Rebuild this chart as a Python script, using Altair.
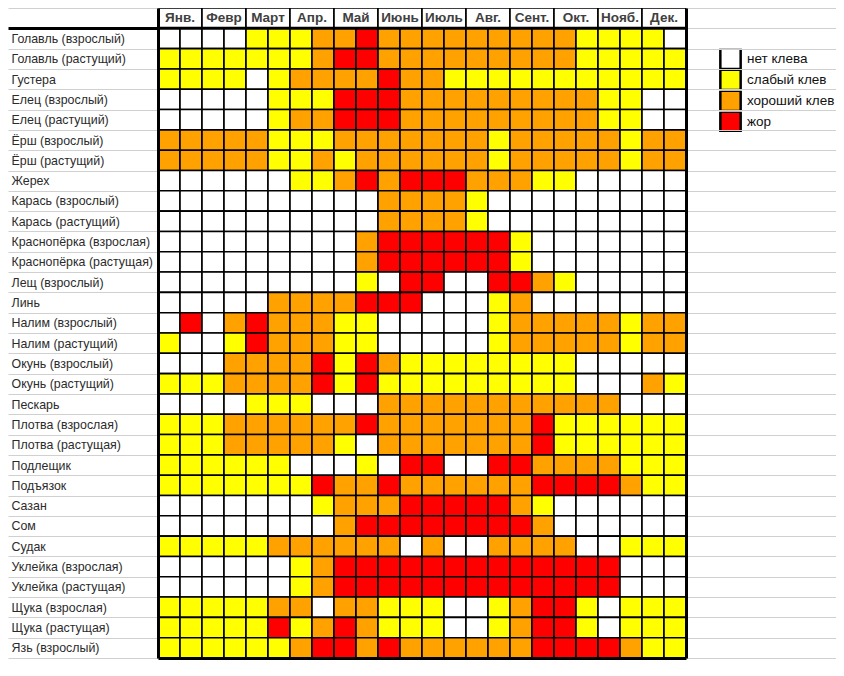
import altair as alt
import pandas as pd

months = ["Янв.", "Февр", "Март", "Апр.", "Май", "Июнь",
          "Июль", "Авг.", "Сент.", "Окт.", "Нояб.", "Дек."]
halves = ["1", "2"]
levels = ["нет клева", "слабый клев", "хороший клев", "жор"]
level_colors = ["#ffffff", "#ffff00", "#ffa200", "#ff0000"]

fish = [
    "Голавль (взрослый)", "Голавль (растущий)", "Густера", "Елец (взрослый)",
    "Елец (растущий)", "Ёрш (взрослый)", "Ёрш (растущий)", "Жерех",
    "Карась (взрослый)", "Карась (растущий)", "Краснопёрка (взрослая)",
    "Краснопёрка (растущая)", "Лещ (взрослый)", "Линь", "Налим (взрослый)",
    "Налим (растущий)", "Окунь (взрослый)", "Окунь (растущий)", "Пескарь",
    "Плотва (взрослая)", "Плотва (растущая)", "Подлещик", "Подъязок", "Сазан",
    "Сом", "Судак", "Уклейка (взрослая)", "Уклейка (растущая)",
    "Щука (взрослая)", "Щука (растущая)", "Язь (взрослый)",
]

# bite level per half-month (0 = нет клева ... 3 = жор), Jan 1st half .. Dec 2nd half
golavl_adult = [0,0,0,0,1,1,1,2,2,3,2,2,2,2,2,2,2,2,2,1,1,1,1,0]
golavl_young = [1,1,1,1,1,1,1,2,3,3,2,2,2,2,2,2,2,2,2,1,1,1,1,1]
gustera      = [1,1,1,1,0,1,2,2,2,2,3,2,2,1,1,1,1,1,1,1,1,1,1,1]
elets_adult  = [0,0,0,0,0,1,1,1,3,3,3,2,2,2,2,2,2,2,2,2,1,1,0,0]
elets_young  = [0,0,0,0,0,1,2,2,3,3,3,2,2,2,2,2,2,2,2,2,1,1,0,0]
ersh_adult   = [2,2,2,2,2,1,1,1,2,2,2,2,2,2,2,1,2,2,2,2,2,1,2,2]
ersh_young   = [2,2,2,2,2,1,1,2,1,2,2,2,2,2,2,1,2,2,2,2,2,1,2,2]
zherekh      = [0,0,0,0,0,0,1,1,2,3,2,3,3,3,2,2,2,1,1,0,0,0,0,0]
karas_adult  = [0,0,0,0,0,0,0,0,0,0,2,2,2,2,1,0,0,0,0,0,0,0,0,0]
karas_young  = [0,0,0,0,0,0,0,0,0,0,2,2,2,2,1,0,0,0,0,0,0,0,0,0]
krasn_adult  = [0,0,0,0,0,0,0,0,0,2,3,3,3,3,3,3,1,0,0,0,0,0,0,0]
krasn_young  = [0,0,0,0,0,0,0,0,0,2,3,3,3,3,3,3,1,0,0,0,0,0,0,0]
leshch_adult = [0,0,0,0,0,0,0,0,0,1,0,3,3,0,0,3,3,2,1,0,0,0,0,0]
lin          = [0,0,0,0,0,2,2,2,2,3,3,3,0,0,0,1,2,0,0,0,0,0,0,0]
nalim_adult  = [0,3,0,2,3,2,2,2,1,1,0,0,0,0,0,1,2,2,2,2,2,1,2,2]
nalim_young  = [1,0,0,1,3,2,2,2,1,1,0,0,0,0,0,1,2,2,2,2,2,1,2,2]
okun_adult   = [0,0,0,2,2,2,2,3,1,3,2,1,1,1,1,1,1,1,1,0,0,0,0,0]
okun_young   = [1,1,1,2,2,2,2,3,1,3,1,1,1,1,1,1,1,1,1,0,0,0,2,1]
peskar       = [0,0,0,0,1,1,1,0,0,0,2,2,2,2,2,2,2,2,2,2,2,0,0,0]
plotva_adult = [1,1,1,2,2,2,2,2,2,3,2,2,2,2,2,2,2,3,1,1,1,1,1,1]
plotva_young = [1,1,1,2,2,2,2,2,1,0,2,2,2,2,2,2,2,3,1,1,1,1,1,1]
podleshchik  = [1,1,1,1,1,1,0,0,0,1,0,3,3,0,0,3,3,2,2,2,2,1,1,1]
podyazok     = [1,1,1,1,1,1,1,3,2,2,3,2,2,2,2,2,2,3,3,3,3,2,1,1]
sazan        = [0,0,0,0,0,0,0,1,2,2,2,3,3,3,3,3,2,1,0,0,0,0,0,0]
som          = [0,0,0,0,0,0,0,0,2,3,3,3,3,3,3,3,3,2,0,0,0,0,0,0]
sudak        = [1,1,1,1,1,2,2,2,2,2,2,0,2,0,0,2,2,2,2,0,0,1,1,1]
ukleyka_adult = [0,0,0,0,0,0,1,2,3,3,3,3,3,3,3,3,3,3,3,3,3,0,0,0]
ukleyka_young = [0,0,0,0,0,0,1,2,3,3,3,3,3,3,3,3,3,3,3,3,3,0,0,0]
shchuka_adult = [1,1,1,1,1,2,2,0,2,2,1,1,1,0,0,1,2,3,3,1,0,1,1,1]
shchuka_young = [1,1,1,1,1,3,1,2,3,2,1,1,1,0,0,1,2,3,3,1,0,1,1,1]
yaz_adult    = [1,1,1,1,1,1,2,3,3,2,3,2,2,2,2,2,2,3,3,3,3,2,1,1]

bite_rows = [
    golavl_adult, golavl_young, gustera, elets_adult, elets_young, ersh_adult,
    ersh_young, zherekh, karas_adult, karas_young, krasn_adult, krasn_young,
    leshch_adult, lin, nalim_adult, nalim_young, okun_adult, okun_young,
    peskar, plotva_adult, plotva_young, podleshchik, podyazok, sazan, som,
    sudak, ukleyka_adult, ukleyka_young, shchuka_adult, shchuka_young, yaz_adult,
]

records = []
for name, row in zip(fish, bite_rows):
    for j, code in enumerate(row):
        records.append({"fish": name, "month": months[j // 2],
                        "half": halves[j % 2], "level": levels[code]})
cells_df = pd.DataFrame(records)

header_key = " "
header_df = pd.DataFrame({"month": months, "fish": [header_key] * len(months)})
row_domain = [header_key] + fish

FONT = "Liberation Sans"
PLOT_W, PLOT_H = 528, 650
ROW_H = PLOT_H / len(row_domain)

x_scale = alt.Scale(domain=months, paddingInner=0, paddingOuter=0)
y_scale = alt.Scale(domain=row_domain, paddingInner=0, paddingOuter=0)
x_axis = alt.Axis(title=None, labels=False, ticks=False, grid=False,
                  domainColor="black", domainWidth=3, orient="bottom")

left_axis = alt.Axis(
    title=None, orient="left", labelAlign="left", labelBaseline="middle",
    labelPadding=-3, tickSize=150, tickBand="extent", grid=False,
    tickColor={"expr": f"datum.value === '{header_key}' ? '#000000' : '#d0d0d0'"},
    tickWidth={"expr": f"datum.value === '{header_key}' ? 3 : 1"},
    domainColor="black", domainWidth=3,
    labelFont=FONT, labelFontSize=12.4, labelColor="#2b2b2b", labelLimit=300,
)
right_axis = alt.Axis(
    title=None, orient="right", labels=False, tickSize=150, tickBand="extent",
    grid=False, tickColor="#d0d0d0",
    domainColor="black", domainWidth=3,
)

cells = alt.Chart(cells_df).mark_rect(stroke="black", strokeWidth=1.6).encode(
    x=alt.X("month:N", scale=x_scale, axis=x_axis),
    xOffset=alt.XOffset("half:N", scale=alt.Scale(domain=halves, paddingInner=0, paddingOuter=0)),
    y=alt.Y("fish:N", scale=y_scale, axis=left_axis),
    fill=alt.Fill(
        "level:N",
        scale=alt.Scale(domain=levels, range=level_colors),
        legend=alt.Legend(
            title=None, orient="none", legendX=561, legendY=2 * ROW_H,
            symbolType="square", symbolSize=ROW_H * ROW_H,
            symbolStrokeColor="black", symbolStrokeWidth=2.5, symbolOpacity=1,
            clipHeight=ROW_H, rowPadding=0, padding=0,
            labelFont=FONT, labelFontSize=13.5, labelColor="#111111",
            labelOffset=5, labelBaseline="middle",
        ),
    ),
)

header = alt.Chart(header_df).mark_rect(fill="white", stroke="black", strokeWidth=1.6).encode(
    x=alt.X("month:N", scale=x_scale, axis=x_axis),
    y=alt.Y("fish:N", scale=y_scale, axis=right_axis),
)

header_text = alt.Chart(header_df).mark_text(
    font=FONT, fontSize=13.5, fontWeight="bold", color="#404040", baseline="middle"
).encode(
    x=alt.X("month:N", scale=x_scale, axis=x_axis),
    y=alt.Y("fish:N", scale=y_scale, axis=None),
    text="month:N",
)

header_line = alt.Chart(header_df.head(1)).mark_rule(color="black", strokeWidth=3).encode(
    y=alt.Y("fish:N", scale=y_scale, axis=None, bandPosition=1),
)

chart = alt.layer(cells, header, header_text, header_line).resolve_axis(
    y="independent"
).properties(
    width=PLOT_W, height=PLOT_H,
    padding={"left": 150, "top": 0, "right": 150, "bottom": 2},
    autosize=alt.AutoSizeParams(type="none"),
).configure_view(strokeWidth=0)

chart.save("out.html", embed_options={"renderer": "svg", "actions": False})
